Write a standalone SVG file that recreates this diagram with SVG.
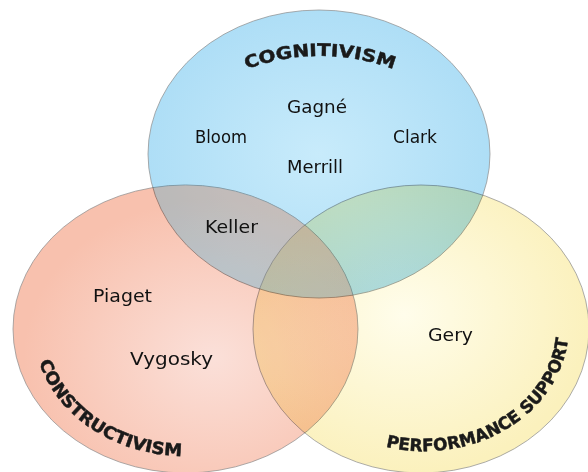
<svg xmlns="http://www.w3.org/2000/svg" width="588" height="472" viewBox="0 0 588 472">
  <style>
    .set { mix-blend-mode: multiply; stroke: #8a8a8a; stroke-opacity: 0.7; stroke-width: 1; }
    .name { font-family: "DejaVu Sans", Verdana, sans-serif; font-size: 18px; fill: #111; }
    .title { font-family: "DejaVu Sans", "Liberation Sans", sans-serif; font-size: 17px; font-weight: bold; fill: #1a1a1a; stroke: #1a1a1a; stroke-width: 0.5; }
  </style>
  <defs>
    <radialGradient id="gBlue" cx="0.5" cy="0.5" r="0.5">
      <stop offset="0" stop-color="#c8ebfb"/>
      <stop offset="1" stop-color="#aedef6"/>
    </radialGradient>
    <radialGradient id="gRed" cx="0.58" cy="0.6" r="0.55">
      <stop offset="0" stop-color="#fbe0d9"/>
      <stop offset="1" stop-color="#f8c1ae"/>
    </radialGradient>
    <radialGradient id="gYellow" cx="0.45" cy="0.45" r="0.55">
      <stop offset="0" stop-color="#fffdeb"/>
      <stop offset="1" stop-color="#fbf1bd"/>
    </radialGradient>
    <clipPath id="clipRed">
      <ellipse cx="185.5" cy="329" rx="172.5" ry="144"/>
    </clipPath>
    <path id="arcCog" d="M 185 105.1 A 210 210 0 0 1 455 105.1"/>
    <path id="arcCon" d="M 36.3 306.9 A 151 127 0 0 0 236.6 448.4"/>
    <path id="arcPer" d="M 340 428 A 144.5 124 0 0 0 562 290"/>
  </defs>
  <rect width="588" height="472" fill="#ffffff"/>

  <g id="connectors"/>

  <g id="cognitivism">
    <ellipse class="set" cx="319" cy="154" rx="171" ry="144" fill="url(#gBlue)"/>
  </g>
  <g id="constructivism">
    <ellipse class="set" cx="185.5" cy="329" rx="172.5" ry="144" fill="url(#gRed)"/>
  </g>
  <g id="performance-support">
    <ellipse class="set" cx="421" cy="329" rx="168" ry="144" fill="url(#gYellow)"/>
  </g>
  <g id="overlap-tint" clip-path="url(#clipRed)">
    <ellipse cx="319" cy="154" rx="170.5" ry="143.5" fill="#ffffff" fill-opacity="0.2"/>
  </g>

  <g id="cognitivism-title">
    <text class="title"><textPath href="#arcCog" startOffset="50%" text-anchor="middle" textLength="150" lengthAdjust="spacingAndGlyphs">COGNITIVISM</textPath></text>
  </g>
  <g id="constructivism-title">
    <text class="title"><textPath href="#arcCon" startOffset="50%" text-anchor="middle" textLength="182" lengthAdjust="spacingAndGlyphs">CONSTRUCTIVISM</textPath></text>
  </g>
  <g id="performance-title">
    <text class="title"><textPath href="#arcPer" startOffset="50%" text-anchor="middle" textLength="238" lengthAdjust="spacingAndGlyphs">PERFORMANCE SUPPORT</textPath></text>
  </g>

  <g id="gagne"><text class="name" x="287" y="113" textLength="60" lengthAdjust="spacingAndGlyphs">Gagné</text></g>
  <g id="bloom"><text class="name" x="195" y="143" textLength="52" lengthAdjust="spacingAndGlyphs">Bloom</text></g>
  <g id="clark"><text class="name" x="393" y="143" textLength="44" lengthAdjust="spacingAndGlyphs">Clark</text></g>
  <g id="merrill"><text class="name" x="287" y="173" textLength="56" lengthAdjust="spacingAndGlyphs">Merrill</text></g>
  <g id="keller"><text class="name" x="205" y="233" textLength="53" lengthAdjust="spacingAndGlyphs">Keller</text></g>
  <g id="piaget"><text class="name" x="93" y="302" textLength="59" lengthAdjust="spacingAndGlyphs">Piaget</text></g>
  <g id="vygosky"><text class="name" x="130" y="365" textLength="83" lengthAdjust="spacingAndGlyphs">Vygosky</text></g>
  <g id="gery"><text class="name" x="428" y="341" textLength="45" lengthAdjust="spacingAndGlyphs">Gery</text></g>
</svg>
